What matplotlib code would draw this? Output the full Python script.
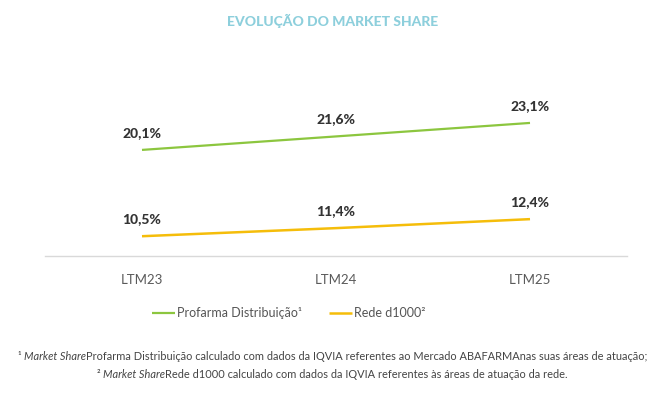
import matplotlib
matplotlib.use("Agg")
import matplotlib.pyplot as plt

plt.rcParams['font.family'] = ['Lato', 'DejaVu Sans']

# Data
periods = ['LTM23', 'LTM24', 'LTM25']
profarma = [20.1, 21.6, 23.1]
rede_d1000 = [10.5, 11.4, 12.4]

GREEN = '#8CC63F'
YELLOW = '#F5BD0A'
TITLE_BLUE = '#8DCFDC'
DARK = '#333333'
GRAY = '#555555'

fig = plt.figure(figsize=(6.65, 3.97), dpi=100)
ax = fig.add_axes([45 / 665, 1 - 256 / 397, (627 - 45) / 665, (256 - 60) / 397])

x = list(range(len(periods)))
ax.plot(x, profarma, color=GREEN, lw=1.6, label='Profarma Distribuição¹', solid_capstyle='butt')
ax.plot(x, rede_d1000, color=YELLOW, lw=1.8, label='Rede d1000²', solid_capstyle='butt')

for series in (profarma, rede_d1000):
    for xi, v in zip(x, series):
        ax.annotate(f"{v:.1f}%".replace('.', ','), (xi, v), xytext=(0, 12.5), textcoords='offset points',
                    ha='center', va='center', fontsize=10, fontweight='black', color=DARK)

ax.set_xlim(-0.5, 2.5)
ax.set_ylim(8.3, 30.1)
ax.set_xticks(x)
ax.set_xticklabels(periods, fontsize=9.5, color='#5a5a5a')
ax.tick_params(axis='x', length=0, pad=13)
ax.set_yticks([])
for s in ['top', 'left', 'right']:
    ax.spines[s].set_visible(False)
ax.spines['bottom'].set_color('#D9D9D9')
ax.spines['bottom'].set_linewidth(1)

fig.legend(loc='center', bbox_to_anchor=(0.434, 1 - 313 / 397), ncol=2, frameon=False,
           fontsize=9, handlelength=1.8, handletextpad=0.15, columnspacing=2.2,
           labelcolor=GRAY)

fig.text(0.5, 1 - 21 / 397, 'EVOLUÇÃO DO MARKET SHARE', ha='center', va='center',
         fontsize=10, fontweight='black', color=TITLE_BLUE)

# footnotes: mixed italic / regular pieces, centred as a whole
notes = [
    [('¹ ', 'normal'), ('Market Share', 'italic'),
     ('Profarma Distribuição calculado com dados da IQVIA referentes ao Mercado ABAFARMAnas suas áreas de atuação;', 'normal')],
    [('² ', 'normal'), ('Market Share', 'italic'),
     ('Rede d1000 calculado com dados da IQVIA referentes às áreas de atuação da rede.', 'normal')],
]
note_y = [356, 375]
renderer = fig.canvas.get_renderer()
for pieces, yp in zip(notes, note_y):
    texts = [fig.text(0, 1 - yp / 397, s, style=st, fontsize=7.9, color='#444444', va='center')
             for s, st in pieces]
    widths = [t.get_window_extent(renderer).width for t in texts]
    total = sum(widths)
    x0 = (665 - total) / 2
    for t, w in zip(texts, widths):
        t.set_x(x0 / 665)
        x0 += w

fig.savefig('out.png', dpi=100)
